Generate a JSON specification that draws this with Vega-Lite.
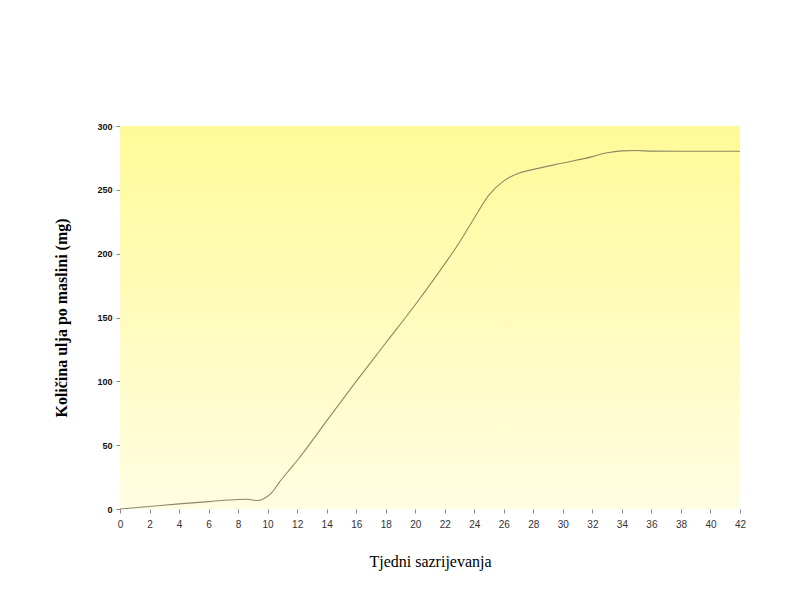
{
  "$schema": "https://vega.github.io/schema/vega-lite/v6.json",
  "width": 620,
  "height": 383,
  "autosize": {"type": "none"},
  "padding": {"left": 120, "top": 126, "right": 58, "bottom": 84},
  "background": "white",
  "config": {
    "view": {"stroke": null},
    "axis": {"labelOverlap": false, "labelFlush": false, "domain": false, "grid": false, "tickColor": "#888", "tickSize": 4}
  },
  "layer": [
    {
      "data": {"values": [{"panel": "background"}]},
      "mark": {
        "type": "rect",
        "color": {
          "gradient": "linear",
          "x1": 0, "y1": 0, "x2": 0, "y2": 1,
          "stops": [
            {"offset": 0, "color": "#FFFA98"},
            {"offset": 1, "color": "#FFFDE2"}
          ]
        }
      },
      "encoding": {}
    },
    {
      "data": {
        "values": [
          {"week": 0, "oil": 0},
          {"week": 2, "oil": 2},
          {"week": 4, "oil": 4},
          {"week": 6, "oil": 5.8},
          {"week": 8, "oil": 7.5},
          {"week": 8.6, "oil": 7.6},
          {"week": 9.3, "oil": 6.6},
          {"week": 9.8, "oil": 8.5},
          {"week": 10.3, "oil": 13},
          {"week": 10.8, "oil": 21},
          {"week": 11.5, "oil": 31},
          {"week": 12, "oil": 38},
          {"week": 14, "oil": 69},
          {"week": 16, "oil": 100},
          {"week": 18, "oil": 130},
          {"week": 20, "oil": 160},
          {"week": 22, "oil": 192},
          {"week": 23, "oil": 209},
          {"week": 24, "oil": 228},
          {"week": 25, "oil": 246},
          {"week": 26, "oil": 257},
          {"week": 27, "oil": 263},
          {"week": 28, "oil": 266},
          {"week": 30, "oil": 271},
          {"week": 32, "oil": 276},
          {"week": 33, "oil": 279},
          {"week": 34, "oil": 280.5},
          {"week": 35, "oil": 280.8},
          {"week": 36, "oil": 280.3},
          {"week": 38, "oil": 280.2},
          {"week": 40, "oil": 280.2},
          {"week": 42, "oil": 280.2}
        ]
      },
      "mark": {"type": "line", "interpolate": "monotone", "color": "#8c8a62", "strokeWidth": 1.1},
      "encoding": {
        "x": {
          "field": "week", "type": "quantitative",
          "scale": {"domain": [0, 42], "nice": false},
          "axis": {
            "values": [0,2,4,6,8,10,12,14,16,18,20,22,24,26,28,30,32,34,36,38,40,42],
            "title": "Tjedni sazrijevanja",
            "titleFont": "Liberation Serif", "titleFontSize": 16, "titleFontWeight": "normal", "titleColor": "#000",
            "titlePadding": 24,
            "labelFont": "Liberation Sans", "labelFontSize": 10, "labelColor": "#333", "labelPadding": 6
          }
        },
        "y": {
          "field": "oil", "type": "quantitative",
          "scale": {"domain": [0, 300], "nice": false},
          "axis": {
            "values": [0, 50, 100, 150, 200, 250, 300],
            "title": "Količina ulja po maslini (mg)",
            "titleFont": "Liberation Serif", "titleFontSize": 16, "titleFontWeight": "bold", "titleColor": "#000",
            "titlePadding": 27,
            "labelFont": "Liberation Sans", "labelFontSize": 9, "labelFontWeight": "bold", "labelColor": "#111", "labelPadding": 4
          }
        }
      }
    }
  ]
}
